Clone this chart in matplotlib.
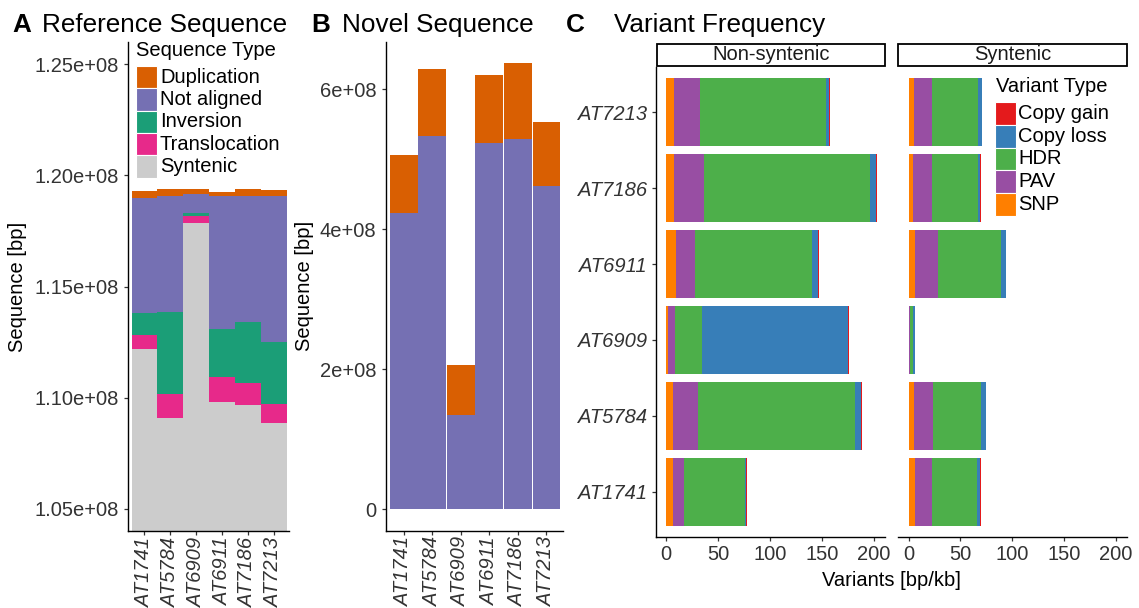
import matplotlib
matplotlib.use("Agg")
import matplotlib.pyplot as plt
from matplotlib.patches import Rectangle
from matplotlib.ticker import FixedLocator, FuncFormatter
import numpy as np

plt.rcParams["font.family"] = ["Liberation Sans", "DejaVu Sans"]

# ---------------- data ----------------
samples = ["AT1741", "AT5784", "AT6909", "AT6911", "AT7186", "AT7213"]

# A: reference sequence composition (bp), stacked bottom -> top
seq_types = ["Duplication", "Not aligned", "Inversion", "Translocation", "Syntenic"]
seq_colors = ["#D95F02", "#7570B3", "#1B9E77", "#E7298A", "#CCCCCC"]
ref_syntenic = [1.1218e8, 1.0910e8, 1.1787e8, 1.0979e8, 1.0965e8, 1.0886e8]
ref_translocation = [0.62e6, 1.08e6, 0.30e6, 1.12e6, 1.01e6, 0.87e6]
ref_inversion = [1.00e6, 3.66e6, 0.13e6, 2.16e6, 2.73e6, 2.77e6]
ref_not_aligned = [5.19e6, 5.21e6, 0.86e6, 5.98e6, 5.69e6, 6.55e6]
ref_duplication = [0.31e6, 0.34e6, 0.23e6, 0.22e6, 0.31e6, 0.31e6]

# B: novel sequence (bp)
nov_not_aligned = [4.237e8, 5.337e8, 1.347e8, 5.237e8, 5.286e8, 4.619e8]
nov_duplication = [0.824e8, 0.953e8, 0.714e8, 0.967e8, 1.094e8, 0.914e8]

# C: variant frequency (bp/kb), stacked left -> right
var_types = ["SNP", "PAV", "HDR", "Copy loss", "Copy gain"]
var_colors = {"Copy gain": "#E41A1C", "Copy loss": "#377EB8", "HDR": "#4DAF4A",
              "PAV": "#984EA3", "SNP": "#FF7F00"}
legend_var_order = ["Copy gain", "Copy loss", "HDR", "PAV", "SNP"]
facets = ["Non-syntenic", "Syntenic"]
nonsyn_snp = [7.0, 7.0, 2.0, 9.7, 7.7, 7.7]
nonsyn_pav = [10.7, 24.2, 6.7, 18.3, 29.0, 25.1]
nonsyn_hdr = [57.9, 150.6, 26.0, 112.6, 160.2, 121.6]
nonsyn_copy_loss = [1.6, 5.8, 141.0, 5.8, 5.8, 2.6]
nonsyn_copy_gain = [1.0, 1.6, 0.8, 1.3, 0.3, 1.0]
syn_snp = [6.5, 5.5, 0.2, 6.5, 4.5, 5.5]
syn_pav = [16.4, 18.4, 1.0, 22.2, 18.4, 17.4]
syn_hdr = [42.6, 45.5, 2.9, 60.0, 43.6, 43.6]
syn_copy_loss = [2.9, 4.8, 1.9, 4.9, 1.9, 3.8]
syn_copy_gain = [1.6, 0.6, 0.0, 0.1, 1.6, 0.2]

# ---------------- layout ----------------
W, H = 1139, 608
fig = plt.figure(figsize=(W / 100, H / 100), dpi=100)


def px_rect(l, t, r, b):
    return [l / W, 1 - b / H, (r - l) / W, (b - t) / H]


TICK_FS = 14.5
TXT = "#333333"


def style_axis(ax, left=True, bottom=True):
    for s in ["top", "right"]:
        ax.spines[s].set_visible(False)
    ax.spines["left"].set_visible(left)
    ax.spines["bottom"].set_visible(bottom)
    for s in ["left", "bottom"]:
        ax.spines[s].set_linewidth(1.0)
        ax.spines[s].set_color("black")
    ax.tick_params(length=3.2, width=0.9, color="#333333", labelsize=TICK_FS,
                   labelcolor=TXT)


x = np.arange(len(samples))

# ---------- A: Reference Sequence ----------
axA = fig.add_axes(px_rect(128, 42, 289, 531))
ref_stack = [ref_syntenic, ref_translocation, ref_inversion, ref_not_aligned, ref_duplication]
ref_colors = [seq_colors[4], seq_colors[3], seq_colors[2], seq_colors[1], seq_colors[0]]
bottom = np.zeros(len(samples))
for vals, col in zip(ref_stack, ref_colors):
    axA.bar(x, vals, bottom=bottom, width=0.97, color=col, linewidth=0)
    bottom += np.array(vals)
axA.set_ylim(1.04e8, 1.26e8)
axA.set_xlim(-0.62, 5.58)
axA.yaxis.set_major_locator(FixedLocator([1.05e8, 1.10e8, 1.15e8, 1.20e8, 1.25e8]))
axA.yaxis.set_major_formatter(FuncFormatter(lambda v, p: f"{v:.2e}"))
axA.set_xticks(x)
axA.set_xticklabels(samples, rotation=90, style="italic")
style_axis(axA)
axA.tick_params(axis="x", pad=1.5)
axA.tick_params(axis="y", pad=3.5)
axA.set_ylabel("Sequence [bp]", fontsize=14.5, labelpad=5)

# ---------- B: Novel Sequence ----------
axB = fig.add_axes(px_rect(385.7, 41.7, 563.3, 530.7))
axB.bar(x, nov_not_aligned, width=0.97, color=seq_colors[1], linewidth=0)
axB.bar(x, nov_duplication, bottom=nov_not_aligned, width=0.97, color=seq_colors[0], linewidth=0)
axB.set_ylim(-0.306e8, 6.68e8)
axB.set_xlim(-0.63, 5.59)
axB.yaxis.set_major_locator(FixedLocator([0, 2e8, 4e8, 6e8]))
axB.yaxis.set_major_formatter(FuncFormatter(lambda v, p: "0" if v == 0 else f"{v:.0e}"))
axB.set_xticks(x)
axB.set_xticklabels(samples, rotation=90, style="italic")
style_axis(axB)
axB.tick_params(axis="x", pad=1.5)
axB.tick_params(axis="y", pad=3.5)
axB.set_ylabel("Sequence [bp]", fontsize=14.5, labelpad=4)

# ---------- C: Variant Frequency ----------
facet_data = {
    "Non-syntenic": [nonsyn_snp, nonsyn_pav, nonsyn_hdr, nonsyn_copy_loss, nonsyn_copy_gain],
    "Syntenic": [syn_snp, syn_pav, syn_hdr, syn_copy_loss, syn_copy_gain],
}
axC1 = fig.add_axes(px_rect(655.7, 66.7, 885, 537.3))
axC2 = fig.add_axes(px_rect(898.3, 66.7, 1127.3, 537.3))
for ax, facet in zip([axC1, axC2], facets):
    left = np.zeros(len(samples))
    for vt, vals in zip(var_types, facet_data[facet]):
        ax.barh(x, vals, left=left, height=0.9, color=var_colors[vt], linewidth=0)
        left += np.array(vals)
    ax.set_xlim(-10, 211)
    ax.set_ylim(-0.6, 5.6)
    ax.set_xticks([0, 50, 100, 150, 200])
    style_axis(ax, left=(ax is axC1))
    ax.tick_params(axis="x", pad=2.5)
axC1.set_yticks(x)
axC1.set_yticklabels(samples, style="italic")
axC1.tick_params(axis="y", pad=3)
axC2.set_yticks([])

# ---------- overlay: titles, strips, legends ----------
ov = fig.add_axes([0, 0, 1, 1], zorder=5)
ov.set_xlim(0, W)
ov.set_ylim(H, 0)
ov.axis("off")
ov.patch.set_alpha(0)

TITLE_FS = 18.8
ov.text(12.5, 32, "A", fontsize=TITLE_FS, fontweight="bold", va="baseline", ha="left")
ov.text(42, 32, "Reference Sequence", fontsize=TITLE_FS, va="baseline", ha="left")
ov.text(311, 32, "B", fontsize=TITLE_FS, fontweight="bold", va="baseline", ha="left")
ov.text(342, 32, "Novel Sequence", fontsize=TITLE_FS, va="baseline", ha="left")
ov.text(566, 32, "C", fontsize=TITLE_FS, fontweight="bold", va="baseline", ha="left")
ov.text(614, 32, "Variant Frequency", fontsize=TITLE_FS, va="baseline", ha="left")

# facet strips
for (l, r), facet in zip([(656.7, 885), (897.7, 1127.3)], facets):
    ov.add_patch(Rectangle((l, 44), r - l, 21.7, facecolor="white",
                           edgecolor="black", linewidth=1.3))
    ov.text((l + r) / 2, 55, facet, fontsize=14.5, ha="center", va="center", color="#1A1A1A")

ov.text(891, 581, "Variants [bp/kb]", fontsize=14.5, ha="center", va="center")

# legend A
ov.text(136, 50, "Sequence Type", fontsize=14.5, ha="left", va="center")
for i, (name, col) in enumerate(zip(seq_types, seq_colors)):
    top = 66 + i * 22.3
    ov.add_patch(Rectangle((136, top), 20.7, 22.3, facecolor=col, edgecolor="white", linewidth=0.8))
    ov.text(160, top + 11.2, name, fontsize=14.5, ha="left", va="center")

# legend C
ov.text(996, 87, "Variant Type", fontsize=14.5, ha="left", va="center")
for i, name in enumerate(legend_var_order):
    top = 102 + i * 22.8
    ov.add_patch(Rectangle((995, top), 21, 22.8, facecolor=var_colors[name], edgecolor="white", linewidth=0.8))
    ov.text(1018.5, top + 11.4, name, fontsize=14.5, ha="left", va="center")

fig.savefig("out.png", dpi=100)
